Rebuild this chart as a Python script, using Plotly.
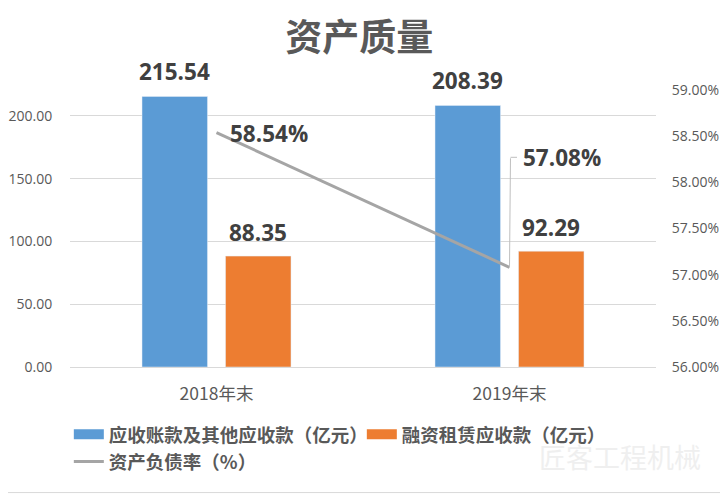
import plotly.graph_objects as go

categories = ["2018年末", "2019年末"]
receivables = [215.54, 208.39]
lease = [88.35, 92.29]
debt_ratio = [58.54, 57.08]
name_a = "应收账款及其他应收款（亿元）"
name_b = "融资租赁应收款（亿元）"
name_c = "资产负债率（%）"

FONT = "Noto Sans CJK SC"
LABEL = dict(size=22.5, color="#404040", family="Open Sans", weight="bold")
CLEAR = "rgba(0,0,0,0)"

fig = go.Figure()
fig.add_trace(go.Bar(x=categories, y=receivables, marker_color="#5B9BD5", offsetgroup=1, showlegend=False))
fig.add_trace(go.Bar(x=categories, y=lease, marker_color="#ED7D31", offsetgroup=2, showlegend=False))
fig.add_trace(go.Scatter(x=categories, y=debt_ratio, yaxis="y2", mode="lines", showlegend=False,
                         line=dict(color="#A5A5A5", width=3)))

# legend only: wide flat swatches like the original
fig.add_trace(go.Scatter(x=[categories[0]], y=[None], name=name_a, mode="lines", line=dict(color="#5B9BD5", width=10)))
fig.add_trace(go.Scatter(x=[categories[0]], y=[None], name=name_b, mode="lines", line=dict(color="#ED7D31", width=10)))
fig.add_trace(go.Scatter(x=[categories[0]], y=[None], name=name_c, mode="lines", line=dict(color="#A5A5A5", width=3)))

# bar labels
for i, cat in enumerate(categories):
    fig.add_annotation(x=cat, y=receivables[i], text="%.2f" % receivables[i], showarrow=False, xshift=-42,
                       yshift=25, font=LABEL)
    fig.add_annotation(x=cat, y=lease[i], text="%.2f" % lease[i], showarrow=False, xshift=41,
                       yshift=24, font=LABEL)

# line labels
fig.add_annotation(x=categories[0], y=debt_ratio[0], yref="y2", text="%.2f%%" % debt_ratio[0], showarrow=False,
                   xanchor="left", xshift=11, yshift=-1, font=LABEL)
fig.add_annotation(x=categories[1], y=debt_ratio[1], yref="y2", text="%.2f%%" % debt_ratio[1], showarrow=False,
                   xanchor="left", xshift=11, yshift=110, font=LABEL)
fig.add_annotation(x=categories[1], y=debt_ratio[1], yref="y2", text=" ", showarrow=True, arrowcolor="#BFBFBF",
                   arrowwidth=1, arrowhead=0, ax=1, ay=-110, standoff=0, startstandoff=0,
                   font=dict(size=1), borderpad=0)
fig.add_annotation(x=categories[1], y=debt_ratio[1], yref="y2", text=" ", showarrow=True, arrowcolor="#BFBFBF",
                   arrowwidth=1, arrowhead=0, ax=7, ay=0, xshift=1, yshift=110, standoff=0, startstandoff=0,
                   font=dict(size=1), borderpad=0)

# watermark
fig.add_annotation(xref="paper", yref="paper", x=1.08, y=-0.29, text="匠客工程机械", showarrow=False,
                   xanchor="right", yanchor="middle", font=dict(size=27, color="#EFEFEF", family=FONT))

# thin rule at the bottom of the picture
fig.add_shape(type="line", xref="paper", yref="paper", x0=-0.106, x1=1.123, y0=-0.409, y1=-0.409,
              line=dict(color="#D9D9D9", width=1))

# the page body adds 8px around the figure, so the figure is 8px smaller
fig.update_layout(
    width=720, height=486, autosize=False,
    margin=dict(l=62, r=72, t=52, b=127),
    paper_bgcolor="white", plot_bgcolor="white",
    title=dict(text="<b>资产质量</b>", x=0.488, xanchor="center", y=0.938, yanchor="middle",
               font=dict(size=37, color="#595959", family=FONT)),
    barmode="group", bargap=0.43, bargroupgap=0.216,
    legend=dict(orientation="h", x=-0.002, y=-0.159, xanchor="left", yanchor="top", tracegroupgap=0,
                font=dict(size=18.5, color="#595959", family=FONT, weight="bold"),
                entrywidth=248, itemwidth=30),
    xaxis=dict(tickfont=dict(size=17.5, color="#595959", family=FONT), showline=True, linecolor="#D9D9D9",
               ticks="outside", ticklen=11, tickcolor=CLEAR, automargin=False),
    yaxis=dict(range=[0, 244.6], tickvals=[0, 50, 100, 150, 200], tickformat=".2f", gridcolor="#D9D9D9",
               zeroline=False, ticks="outside", ticklen=14, tickcolor=CLEAR, automargin=False,
               tickfont=dict(size=14, color="#595959", family="Open Sans")),
    yaxis2=dict(overlaying="y", side="right", range=[56, 59.326], dtick=0.5, ticksuffix="%", tickformat=".2f",
                showgrid=False, zeroline=False, ticks="outside", ticklen=12, tickcolor=CLEAR, automargin=False,
                tickfont=dict(size=14, color="#595959", family="Open Sans")),
)
fig.write_html("out.html")
